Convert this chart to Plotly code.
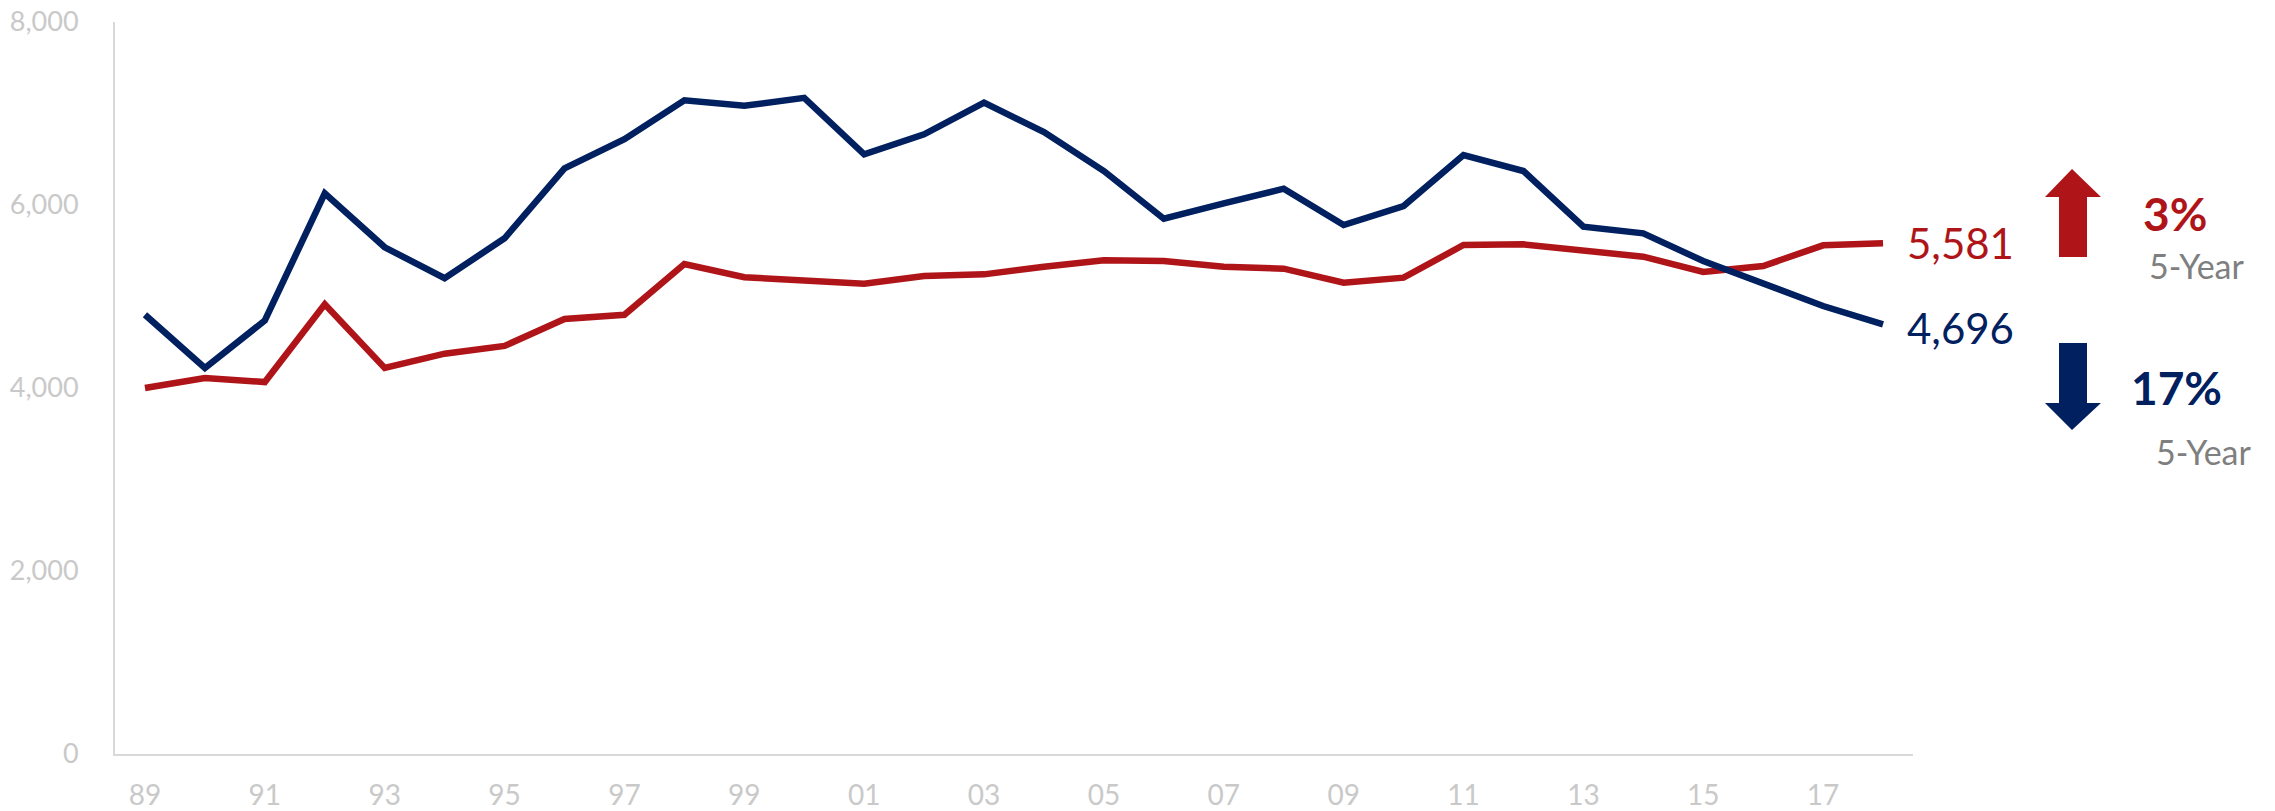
import plotly.graph_objects as go

# values
years = list(range(1989, 2019))
blue_vals = [4800, 4218, 4738, 6127, 5538, 5200, 5636, 6400, 6720, 7145,
             7084, 7171, 6553, 6772, 7118, 6797, 6371, 5850, 6018, 6178,
             5781, 5989, 6546, 6371, 5763, 5690, 5388, 5151, 4896, 4696]
red_vals = [4000, 4110, 4065, 4915, 4220, 4375, 4460, 4755, 4800, 5355,
            5210, 5175, 5140, 5224, 5242, 5326, 5395, 5388, 5326, 5304,
            5151, 5206, 5563, 5570, 5497, 5435, 5268, 5333, 5559, 5581]
tick_years = list(range(1989, 2018, 2))
tick_text = [f"{y % 100:02d}" for y in tick_years]
y_ticks = [0, 2000, 4000, 6000, 8000]
blue_change, red_change = "17%", "3%"

BLUE, RED, GREY_TXT, AXIS, TICK = "#002060", "#AF1518", "#7F7F7F", "#D9D9D9", "#C9C9C9"
W, H = 2275, 811
L, R, T, B = 115, 362, 22, 57


def px(x, y):
    """pixel position in the page -> paper coords"""
    return (x - L) / (W - L - R), (H - B - y) / (H - T - B)


fig = go.Figure()
fig.add_trace(go.Scatter(x=years, y=red_vals, mode='lines', name='Red',
                         line=dict(color=RED, width=6.5)))
fig.add_trace(go.Scatter(x=years, y=blue_vals, mode='lines', name='Blue',
                         line=dict(color=BLUE, width=6.5)))

# end-of-line value labels
for vals, col, ys in ((red_vals, RED, 0), (blue_vals, BLUE, -4)):
    fig.add_annotation(x=years[-1], y=vals[-1], text=f"{vals[-1]:,}", showarrow=False,
                       xanchor='left', yanchor='middle', xshift=22, yshift=ys,
                       font=dict(family='Lato', size=42, color=col))

# block arrows (pixel outlines converted to paper)
def arrow_path(pts):
    p = [px(*q) for q in pts]
    return "M " + " L ".join(f"{a:.5f},{b:.5f}" for a, b in p) + " Z"

up = [(2072, 169), (2101, 197), (2087, 197), (2087, 257), (2059, 257), (2059, 197), (2045, 197)]
down = [(2059, 343), (2087, 343), (2087, 403), (2101, 403), (2072, 430), (2045, 403), (2059, 403)]
for pts, col in ((up, RED), (down, BLUE)):
    fig.add_shape(type='path', path=arrow_path(pts), xref='paper', yref='paper',
                  fillcolor=col, line=dict(width=0))

for text, (x, y), col, size, bold in (
        (red_change, (2175, 213), RED, 46, True),
        ("5-Year", (2197, 265), GREY_TXT, 34, False),
        (blue_change, (2176, 387), BLUE, 46, True),
        ("5-Year", (2204, 451), GREY_TXT, 34, False)):
    xp, yp = px(x, y)
    fig.add_annotation(x=xp, y=yp, xref='paper', yref='paper', showarrow=False,
                       text=f"<b>{text}</b>" if bold else text,
                       xanchor='center', yanchor='middle',
                       font=dict(family='Lato', size=size, color=col))

fig.update_layout(
    width=W, height=H, showlegend=False,
    plot_bgcolor='white', paper_bgcolor='white',
    margin=dict(l=L, r=R, t=T, b=B),
    xaxis=dict(range=[1988.5, 2018.5], tickvals=tick_years, ticktext=tick_text,
               showgrid=False, zeroline=False, showline=True, linecolor=AXIS, linewidth=2,
               ticks='', ticklabelstandoff=15, automargin=False,
               tickfont=dict(family='Lato', size=28, color=TICK)),
    yaxis=dict(range=[0, 8000], tickvals=y_ticks, tickformat=',', showgrid=False,
               zeroline=False, showline=True, linecolor=AXIS, linewidth=2,
               ticks='', ticklabelstandoff=29, automargin=False,
               tickfont=dict(family='Lato', size=27, color=TICK)),
)

# drop the default 8px page margin so the figure sits flush in the window
fig.write_html("out.html", config={'displayModeBar': False},
               post_script="document.body.style.margin='0';")
